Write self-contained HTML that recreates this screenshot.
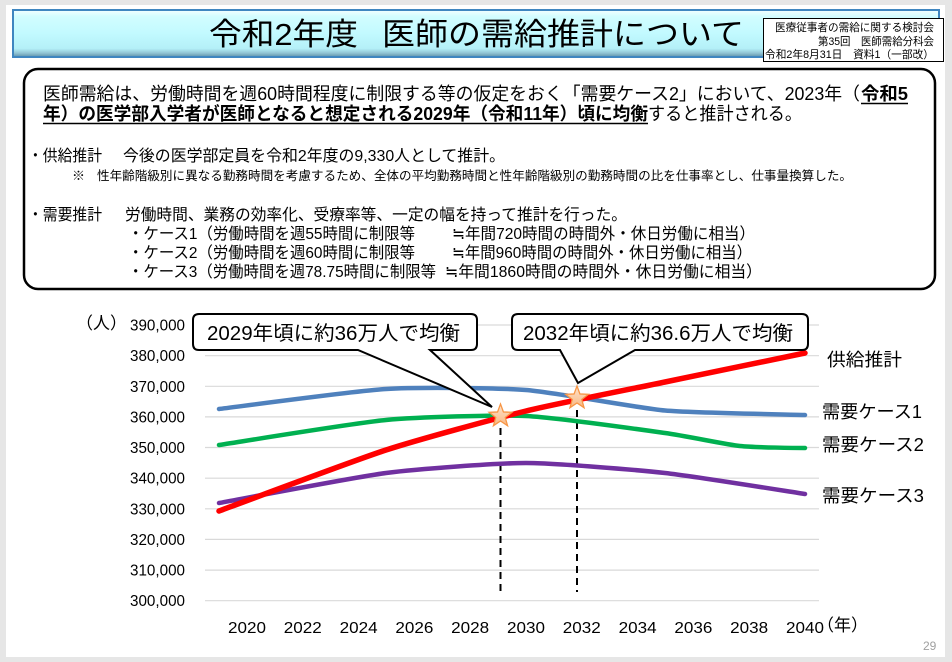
<!DOCTYPE html>
<html><head><meta charset="utf-8">
<style>
html,body{margin:0;padding:0;background:#e6e6e6;}
svg{display:block;}
text{font-family:"Liberation Sans","Noto Sans CJK JP",sans-serif;fill:#000;}
</style></head>
<body>
<svg width="952" height="662" viewBox="0 0 952 662" xmlns="http://www.w3.org/2000/svg">
<defs>
<linearGradient id="tg" x1="0" y1="0" x2="0" y2="1">
<stop offset="0" stop-color="#f4ffff"/>
<stop offset="0.14" stop-color="#d2fdff"/>
<stop offset="0.5" stop-color="#c2faff"/>
<stop offset="0.82" stop-color="#b4f0f8"/>
<stop offset="0.92" stop-color="#8fc2d2"/>
<stop offset="1" stop-color="#5d90a8"/>
</linearGradient>
<linearGradient id="sg" x1="0" y1="0" x2="0" y2="1">
<stop offset="0" stop-color="#fde3cc"/>
<stop offset="1" stop-color="#f9b883"/>
</linearGradient>
</defs>
<rect x="0" y="0" width="952" height="662" fill="#e6e6e6"/>
<rect x="6" y="5" width="939" height="652" fill="#ffffff"/>

<!-- title bar -->
<rect x="13" y="10" width="926" height="47" fill="url(#tg)" stroke="#3f86c0" stroke-width="2"/>
<text x="209" y="45" font-size="31" textLength="149" lengthAdjust="spacingAndGlyphs">令和2年度</text>
<text x="382" y="45" font-size="31" textLength="362" lengthAdjust="spacingAndGlyphs">医師の需給推計について</text>

<!-- info box -->
<rect x="763.5" y="18.5" width="180" height="43" fill="#fff" stroke="#000" stroke-width="1"/>
<text x="934" y="31" font-size="11" text-anchor="end" textLength="159" lengthAdjust="spacingAndGlyphs">医療従事者の需給に関する検討会</text>
<text x="934" y="45" font-size="11" text-anchor="end" textLength="116" lengthAdjust="spacingAndGlyphs">第35回　医師需給分科会</text>
<text x="934" y="58" font-size="11" text-anchor="end" textLength="169" lengthAdjust="spacingAndGlyphs">令和2年8月31日　資料1（一部改）</text>

<!-- main box -->
<rect x="24" y="69" width="911" height="220" rx="14" ry="14" fill="#fff" stroke="#000" stroke-width="2.5"/>
<text x="43" y="100" font-size="18" textLength="817" lengthAdjust="spacingAndGlyphs">医師需給は、労働時間を週60時間程度に制限する等の仮定をおく「需要ケース2」において、2023年（</text>
<text x="861" y="100" font-size="18" font-weight="bold" textLength="47" lengthAdjust="spacingAndGlyphs">令和5</text>
<line x1="861" y1="103.5" x2="908" y2="103.5" stroke="#000" stroke-width="1.5"/>
<text x="43" y="120" font-size="18" font-weight="bold" textLength="605" lengthAdjust="spacingAndGlyphs">年）の医学部入学者が医師となると想定される2029年（令和11年）頃に均衡</text>
<line x1="43" y1="123.5" x2="648" y2="123.5" stroke="#000" stroke-width="1.5"/>
<text x="648" y="120" font-size="18" textLength="154" lengthAdjust="spacingAndGlyphs">すると推計される。</text>

<text x="28" y="161" font-size="16" textLength="74" lengthAdjust="spacingAndGlyphs">・供給推計</text>
<text x="123" y="161" font-size="16" textLength="382" lengthAdjust="spacingAndGlyphs">今後の医学部定員を令和2年度の9,330人として推計。</text>
<text x="72" y="180" font-size="12.5" textLength="13" lengthAdjust="spacingAndGlyphs">※</text>
<text x="97" y="180" font-size="12.5" textLength="755" lengthAdjust="spacingAndGlyphs">性年齢階級別に異なる勤務時間を考慮するため、全体の平均勤務時間と性年齢階級別の勤務時間の比を仕事率とし、仕事量換算した。</text>

<text x="28" y="220" font-size="16" textLength="74" lengthAdjust="spacingAndGlyphs">・需要推計</text>
<text x="125" y="220" font-size="16" textLength="502" lengthAdjust="spacingAndGlyphs">労働時間、業務の効率化、受療率等、一定の幅を持って推計を行った。</text>
<text x="128" y="239" font-size="16" textLength="287" lengthAdjust="spacingAndGlyphs">・ケース1（労働時間を週55時間に制限等</text>
<text x="452" y="239" font-size="16" textLength="303" lengthAdjust="spacingAndGlyphs">≒年間720時間の時間外・休日労働に相当）</text>
<text x="128" y="258" font-size="16" textLength="287" lengthAdjust="spacingAndGlyphs">・ケース2（労働時間を週60時間に制限等</text>
<text x="452" y="258" font-size="16" textLength="300" lengthAdjust="spacingAndGlyphs">≒年間960時間の時間外・休日労働に相当）</text>
<text x="128" y="277" font-size="16" textLength="308" lengthAdjust="spacingAndGlyphs">・ケース3（労働時間を週78.75時間に制限等</text>
<text x="445" y="277" font-size="16" textLength="317" lengthAdjust="spacingAndGlyphs">≒年間1860時間の時間外・休日労働に相当）</text>

<!-- gridlines -->
<g stroke="#d9d9d9" stroke-width="1.2">
<line x1="205" y1="600.7" x2="819" y2="600.7"/>
<line x1="205" y1="570.1" x2="819" y2="570.1"/>
<line x1="205" y1="539.4" x2="819" y2="539.4"/>
<line x1="205" y1="508.8" x2="819" y2="508.8"/>
<line x1="205" y1="478.2" x2="819" y2="478.2"/>
<line x1="205" y1="447.5" x2="819" y2="447.5"/>
<line x1="205" y1="416.9" x2="819" y2="416.9"/>
<line x1="205" y1="386.3" x2="819" y2="386.3"/>
<line x1="205" y1="355.7" x2="819" y2="355.7"/>
<line x1="205" y1="325.0" x2="819" y2="325.0"/>
</g>

<!-- y labels -->
<g font-size="15.5" text-anchor="end">
<text x="185" y="606.2" textLength="55" lengthAdjust="spacingAndGlyphs">300,000</text>
<text x="185" y="575.6" textLength="55" lengthAdjust="spacingAndGlyphs">310,000</text>
<text x="185" y="544.9" textLength="55" lengthAdjust="spacingAndGlyphs">320,000</text>
<text x="185" y="514.3" textLength="55" lengthAdjust="spacingAndGlyphs">330,000</text>
<text x="185" y="483.7" textLength="55" lengthAdjust="spacingAndGlyphs">340,000</text>
<text x="185" y="453.0" textLength="55" lengthAdjust="spacingAndGlyphs">350,000</text>
<text x="185" y="422.4" textLength="55" lengthAdjust="spacingAndGlyphs">360,000</text>
<text x="185" y="391.8" textLength="55" lengthAdjust="spacingAndGlyphs">370,000</text>
<text x="185" y="361.2" textLength="55" lengthAdjust="spacingAndGlyphs">380,000</text>
<text x="185" y="330.5" textLength="55" lengthAdjust="spacingAndGlyphs">390,000</text>
</g>
<text x="76" y="329" font-size="17">（人）</text>

<!-- x labels -->
<g font-size="16" text-anchor="middle">
<text x="247" y="633" textLength="38" lengthAdjust="spacingAndGlyphs">2020</text>
<text x="302.8" y="633" textLength="38" lengthAdjust="spacingAndGlyphs">2022</text>
<text x="358.6" y="633" textLength="38" lengthAdjust="spacingAndGlyphs">2024</text>
<text x="414.4" y="633" textLength="38" lengthAdjust="spacingAndGlyphs">2026</text>
<text x="470.2" y="633" textLength="38" lengthAdjust="spacingAndGlyphs">2028</text>
<text x="526" y="633" textLength="38" lengthAdjust="spacingAndGlyphs">2030</text>
<text x="581.8" y="633" textLength="38" lengthAdjust="spacingAndGlyphs">2032</text>
<text x="637.6" y="633" textLength="38" lengthAdjust="spacingAndGlyphs">2034</text>
<text x="693.4" y="633" textLength="38" lengthAdjust="spacingAndGlyphs">2036</text>
<text x="749.2" y="633" textLength="38" lengthAdjust="spacingAndGlyphs">2038</text>
<text x="805" y="633" textLength="38" lengthAdjust="spacingAndGlyphs">2040</text>
</g>
<text x="817" y="631" font-size="17">（年）</text>

<!-- dashed lines -->
<g stroke="#000" stroke-width="2" stroke-dasharray="7 5">
<line x1="500.5" y1="428" x2="500.5" y2="592"/>
<line x1="577" y1="410" x2="577" y2="592"/>
</g>

<!-- series -->
<g fill="none" stroke-linecap="round" stroke-linejoin="round">
<path d="M219,409 C235.7,407 355.3,390.9 386,389 C416.7,387.1 498.1,387.85 526,390 C553.9,392.15 637.1,408 665,410.5 C692.9,413 791,414.5 805,415" stroke="#4f81bd" stroke-width="4.5"/>
<path d="M219,445 C235.7,442.5 355.3,422.9 386,420 C416.7,417.1 498.1,414.7 526,416 C553.9,417.3 643.6,430 665,433 C686.4,436 726,444.5 740,446 C754,447.5 798.5,448 805,448" stroke="#00b050" stroke-width="4.5"/>
<path d="M219,503 C235.7,500 355.3,477 386,473 C416.7,469 498.1,463 526,463 C553.9,463 637.1,469.9 665,473 C692.9,476.1 791,491.9 805,494" stroke="#7030a0" stroke-width="4.5"/>
<path d="M219,511 C235.7,504.9 355.3,460 386,450 C416.7,440 498.1,417.8 526,411 C553.9,404.2 637.1,387.8 665,382 C692.9,376.2 791,355.9 805,353" stroke="#ff0000" stroke-width="5.5"/>
</g>

<!-- callouts -->
<path d="M199,314 H471 Q477,314 477,320 V344 Q477,350 471,350 H430 L492,407 L358,350 H199 Q193,350 193,344 V320 Q193,314 199,314 Z" fill="#fff" stroke="#000" stroke-width="2" stroke-linejoin="miter"/>
<text x="207" y="340" font-size="20" textLength="253" lengthAdjust="spacingAndGlyphs">2029年頃に約36万人で均衡</text>
<path d="M518,314 H802 Q808,314 808,320 V344 Q808,350 802,350 H635 L578,383 L560,350 H518 Q512,350 512,344 V320 Q512,314 518,314 Z" fill="#fff" stroke="#000" stroke-width="2" stroke-linejoin="miter"/>
<text x="523" y="340" font-size="20" textLength="270" lengthAdjust="spacingAndGlyphs">2032年頃に約36.6万人で均衡</text>

<!-- stars -->
<polygon transform="translate(500.5,416)" points="0,-12 2.94,-4.05 11.41,-3.71 4.76,1.55 7.05,9.71 0,5 -7.05,9.71 -4.76,1.55 -11.41,-3.71 -2.94,-4.05" fill="url(#sg)" stroke="#f79646" stroke-width="1.3"/>
<polygon transform="translate(577,398)" points="0,-12 2.94,-4.05 11.41,-3.71 4.76,1.55 7.05,9.71 0,5 -7.05,9.71 -4.76,1.55 -11.41,-3.71 -2.94,-4.05" fill="url(#sg)" stroke="#f79646" stroke-width="1.3"/>

<!-- legend labels -->
<g font-size="18">
<text x="827" y="366" textLength="75" lengthAdjust="spacingAndGlyphs">供給推計</text>
<text x="822" y="418" textLength="100" lengthAdjust="spacingAndGlyphs">需要ケース1</text>
<text x="822" y="451" textLength="102" lengthAdjust="spacingAndGlyphs">需要ケース2</text>
<text x="822" y="502" textLength="102" lengthAdjust="spacingAndGlyphs">需要ケース3</text>
</g>

<text x="923" y="650" font-size="12" style="fill:#a0a0a0">29</text>
</svg>
</body></html>
